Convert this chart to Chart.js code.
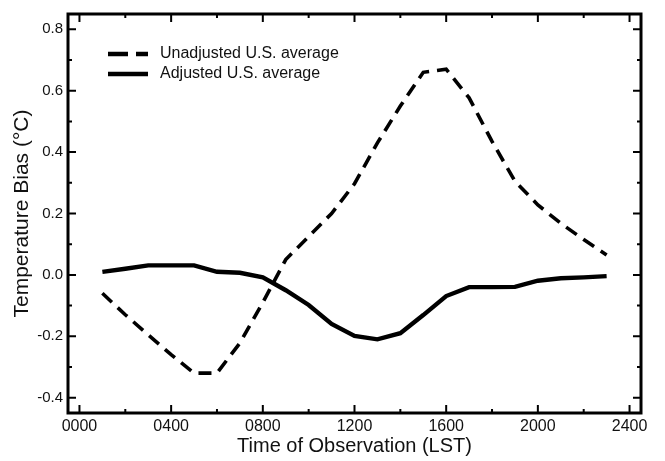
<!DOCTYPE html>
<html>
<head>
<meta charset="utf-8">
<script src="https://cdn.jsdelivr.net/npm/chart.js@4.4.1/dist/chart.umd.min.js"></script>
<style>
  html, body { margin: 0; padding: 0; background: #fff; }
  #wrap { width: 665px; height: 461px; }
</style>
</head>
<body>
<div id="wrap"><canvas id="myChart" width="665" height="461"></canvas></div>
<script>
// hours of observation (LST)
var hours = [100, 200, 300, 400, 500, 600, 700, 800, 900, 1000, 1100, 1200,
  1300, 1400, 1500, 1600, 1700, 1800, 1900, 2000, 2100, 2200, 2300];
var unadjusted = [-0.06, -0.13, -0.195, -0.26, -0.32, -0.32, -0.222, -0.09, 0.05, 0.125, 0.2, 0.297,
  0.43, 0.55, 0.66, 0.67, 0.577, 0.435, 0.305, 0.228, 0.168, 0.115, 0.065];
var adjusted = [0.01, 0.02, 0.031, 0.031, 0.031, 0.01, 0.007, -0.008, -0.05, -0.098, -0.16, -0.199,
  -0.21, -0.19, -0.131, -0.069, -0.04, -0.04, -0.039, -0.019, -0.011, -0.008, -0.004];
var seriesNames = ["Unadjusted U.S. average", "Adjusted U.S. average"];

var xTicks = [0, 400, 800, 1200, 1600, 2000, 2400];
var xMinor = [200, 600, 1000, 1400, 1800, 2200];
var yTicks = [-0.4, -0.2, 0.0, 0.2, 0.4, 0.6, 0.8];
var yMinor = [-0.3, -0.1, 0.1, 0.3, 0.5, 0.7];

var FONT = "'Liberation Sans', Arial, Helvetica, sans-serif";
var INK = "#111";

function pts(vals) {
  return hours.map(function (h, i) { return { x: h, y: vals[i] }; });
}

// frame, inward ticks on all sides and the legend inside the plot
const framePlugin = {
  id: "frame",
  afterDatasetsDraw: function (chart) {
    const ctx = chart.ctx;
    const a = chart.chartArea;
    const xs = chart.scales.x, ys = chart.scales.y;
    ctx.save();
    ctx.strokeStyle = "#000";
    ctx.lineWidth = 2;
    ctx.setLineDash([]);
    ctx.beginPath();
    xTicks.forEach(function (v) {
      const px = xs.getPixelForValue(v);
      ctx.moveTo(px, a.bottom); ctx.lineTo(px, a.bottom - 8);
      ctx.moveTo(px, a.top); ctx.lineTo(px, a.top + 8);
    });
    xMinor.forEach(function (v) {
      const px = xs.getPixelForValue(v);
      ctx.moveTo(px, a.bottom); ctx.lineTo(px, a.bottom - 4);
      ctx.moveTo(px, a.top); ctx.lineTo(px, a.top + 4);
    });
    yTicks.forEach(function (v) {
      const py = ys.getPixelForValue(v);
      ctx.moveTo(a.left, py); ctx.lineTo(a.left + 8, py);
      ctx.moveTo(a.right, py); ctx.lineTo(a.right - 8, py);
    });
    yMinor.forEach(function (v) {
      const py = ys.getPixelForValue(v);
      ctx.moveTo(a.left, py); ctx.lineTo(a.left + 4, py);
      ctx.moveTo(a.right, py); ctx.lineTo(a.right - 4, py);
    });
    ctx.stroke();

    ctx.lineWidth = 3;
    ctx.strokeRect(a.left, a.top, a.right - a.left, a.bottom - a.top);

    // legend
    const lx = a.left + 40, tx = a.left + 92;
    const rows = [a.top + 40, a.top + 60];
    chart.data.datasets.forEach(function (ds, i) {
      ctx.beginPath();
      ctx.lineWidth = 4.5;
      ctx.setLineDash(i === 0 ? [20, 8] : []);
      ctx.moveTo(lx, rows[i]);
      ctx.lineTo(lx + 40, rows[i]);
      ctx.stroke();
      ctx.setLineDash([]);
      ctx.fillStyle = INK;
      ctx.font = "16px " + FONT;
      ctx.textBaseline = "middle";
      ctx.textAlign = "left";
      ctx.fillText(ds.label, tx, rows[i]);
    });
    ctx.restore();
  },
};

const ctx = document.getElementById("myChart").getContext("2d");
const myChart = new Chart(ctx, {
  type: "line",
  data: {
    datasets: [
      {
        label: seriesNames[0],
        data: pts(unadjusted),
        borderColor: "#000",
        borderWidth: 3.6,
        borderDash: [13, 8],
        pointRadius: 0,
        tension: 0,
        fill: false,
      },
      {
        label: seriesNames[1],
        data: pts(adjusted),
        borderColor: "#000",
        borderWidth: 4.4,
        pointRadius: 0,
        tension: 0,
        fill: false,
      },
    ],
  },
  options: {
    responsive: false,
    animation: false,
    devicePixelRatio: 1,
    layout: { padding: { top: 13, right: 24, left: 0, bottom: 0 } },
    plugins: {
      legend: { display: false },
      tooltip: { enabled: false },
    },
    scales: {
      x: {
        type: "linear",
        min: -50,
        max: 2450,
        grid: { display: false, drawTicks: false },
        border: { display: false },
        afterBuildTicks: function (scale) {
          scale.ticks = xTicks.map(function (v) { return { value: v }; });
        },
        afterFit: function (scale) { scale.height = 48; },
        ticks: {
          includeBounds: false,
          autoSkip: false,
          maxRotation: 0,
          padding: 4,
          color: INK,
          font: { family: FONT, size: 16 },
          callback: function (v) { return String(v).padStart(4, "0"); },
        },
        title: {
          display: true,
          text: "Time of Observation (LST)",
          color: INK,
          font: { family: FONT, size: 20 },
          padding: { top: 0, bottom: 3 },
        },
      },
      y: {
        type: "linear",
        min: -0.45,
        max: 0.85,
        grid: { display: false, drawTicks: false },
        border: { display: false },
        afterBuildTicks: function (scale) {
          scale.ticks = yTicks.map(function (v) { return { value: v }; });
        },
        afterFit: function (scale) { scale.width = 68; },
        ticks: {
          includeBounds: false,
          autoSkip: false,
          padding: 5,
          color: INK,
          font: { family: FONT, size: 15 },
          callback: function (v) { return Number(v).toFixed(1); },
        },
        title: {
          display: true,
          text: "Temperature Bias (°C)",
          color: INK,
          font: { family: FONT, size: 21 },
          padding: { top: 10, bottom: 0 },
        },
      },
    },
  },
  plugins: [framePlugin],
});
</script>
</body>
</html>
